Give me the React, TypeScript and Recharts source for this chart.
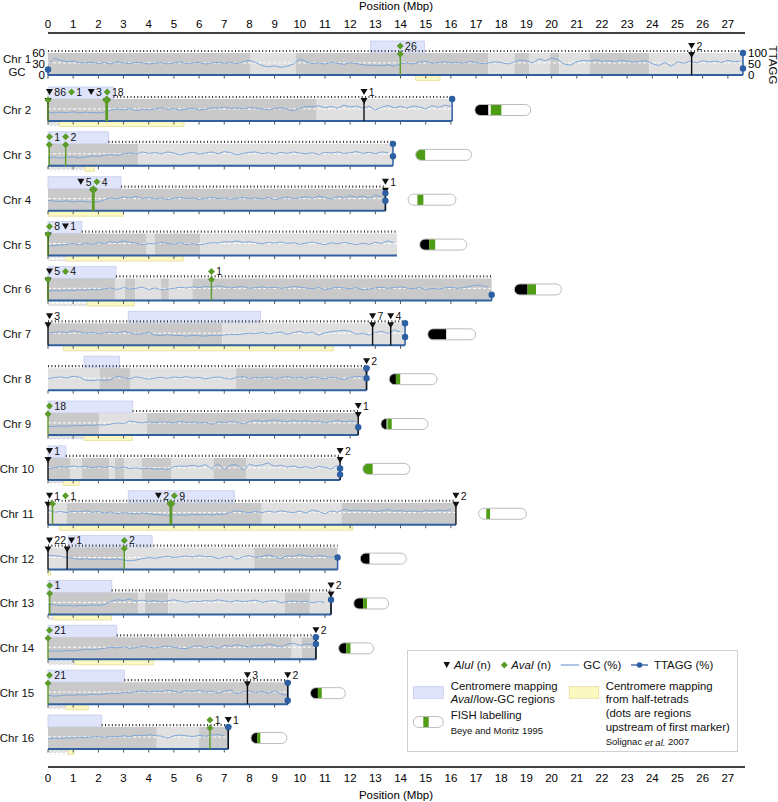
import React from 'react';
import { ComposedChart, Line, Scatter, XAxis, YAxis, ReferenceArea, ReferenceLine } from 'recharts';

const FONT = '"Liberation Sans", Arial, Helvetica, sans-serif';
const WIDTH = 778;
const HEIGHT = 802;
const X_MAX = 27.68;
const STEP = 0.25; // spacing of the GC samples (Mbp)

const chrNames = ['Chr 1', 'Chr 2', 'Chr 3', 'Chr 4', 'Chr 5', 'Chr 6', 'Chr 7', 'Chr 8',
  'Chr 9', 'Chr 10', 'Chr 11', 'Chr 12', 'Chr 13', 'Chr 14', 'Chr 15', 'Chr 16'];
const chrLengths = [27.6, 16.05, 13.7, 13.4, 13.86, 17.62, 14.18, 12.65, 12.32, 11.6, 16.2, 11.5, 11.24, 10.64, 9.52, 7.16];
const positionTicks = [0, 1, 2, 3, 4, 5, 6, 7, 8, 9, 10, 11, 12, 13, 14, 15, 16, 17, 18, 19, 20, 21, 22, 23, 24, 25, 26, 27];
const gcTicks = [0, 30, 60];
const ttaggTicks = [0, 50, 100];

// GC (%) every 0.25 Mbp
const gc1 = [28, 46, 40, 36, 38, 34, 33, 35, 31, 34, 30, 36, 33, 31, 35, 33, 30, 32, 34, 30, 33, 36, 31, 33, 34,
  30, 33, 35, 32, 34, 31, 36, 40, 34, 26, 22, 25, 21, 24, 30, 44, 36, 31, 33, 30, 34, 32, 29, 33,
  31, 28, 26, 27, 25, 28, 24, 30, 33, 30, 35, 37, 32, 34, 36, 33, 35, 32, 37, 34, 31, 33, 36, 34,
  30, 35, 41, 38, 33, 44, 39, 46, 42, 30, 27, 36, 40, 38, 41, 37, 39, 36, 40, 38, 35, 37, 39, 31,
  26, 34, 24, 36, 32, 38, 33, 39, 35, 38, 34, 40, 36, 38];
const gc2 = [24, 22, 24, 23, 25, 22, 24, 23, 22, 24, 30, 33, 30, 34, 28, 32, 30, 33, 36, 31, 34, 29, 33, 35, 30,
  32, 36, 35, 38, 34, 36, 33, 37, 35, 33, 30, 34, 36, 32, 28, 34, 40, 38, 42, 36, 40, 35, 43, 38,
  41, 35, 40, 30, 38, 42, 36, 40, 35, 41, 38, 33, 42, 37, 43, 40];
const gc3 = [22, 24, 21, 23, 25, 22, 24, 27, 26, 29, 31, 28, 33, 35, 32, 38, 34, 36, 33, 38, 35, 30, 34, 37, 32,
  35, 38, 33, 39, 36, 30, 34, 37, 38, 33, 36, 32, 37, 34, 38, 35, 33, 36, 31, 37, 35, 38, 34, 36,
  39, 34, 37, 33, 38, 36];
const gc4 = [28, 26, 25, 27, 24, 26, 25, 23, 24, 30, 35, 32, 38, 34, 39, 33, 36, 32, 35, 30, 34, 36, 33, 35, 31,
  34, 36, 33, 35, 31, 34, 36, 33, 35, 32, 36, 30, 34, 37, 33, 35, 38, 34, 40, 36, 32, 39, 35, 41,
  36, 40, 34, 42, 38];
const gc5 = [26, 27, 29, 31, 33, 30, 34, 31, 35, 33, 38, 35, 40, 36, 34, 30, 33, 32, 36, 33, 31, 35, 30, 33, 29,
  32, 35, 34, 38, 37, 40, 36, 38, 35, 32, 36, 34, 37, 33, 35, 31, 34, 37, 33, 30, 35, 32, 36, 33,
  30, 34, 31, 36, 33, 40, 35];
const gc6 = [26, 27, 26, 28, 27, 29, 28, 30, 29, 32, 34, 30, 35, 31, 33, 36, 30, 34, 29, 31, 33, 36, 34, 37, 35,
  38, 36, 40, 37, 34, 36, 38, 33, 35, 37, 34, 36, 33, 35, 38, 36, 34, 32, 35, 30, 33, 36, 34, 32,
  35, 29, 31, 34, 36, 33, 35, 37, 34, 32, 35, 30, 33, 31, 34, 36, 33, 35, 38, 42, 40, 36];
const gc7 = [33, 35, 37, 34, 40, 36, 33, 35, 32, 34, 36, 33, 38, 34, 30, 32, 35, 28, 27, 29, 26, 27, 25, 27, 26,
  25, 27, 26, 28, 30, 29, 31, 33, 32, 35, 31, 34, 36, 30, 35, 38, 33, 36, 28, 34, 37, 39, 41, 38,
  30, 33, 28, 35, 38, 32, 42, 36];
const gc8 = [32, 34, 36, 33, 38, 35, 27, 26, 28, 27, 29, 38, 34, 31, 36, 33, 30, 33, 35, 32, 36, 34, 37, 33, 35,
  31, 34, 36, 33, 30, 35, 37, 32, 35, 33, 36, 32, 34, 37, 33, 35, 32, 36, 34, 31, 35, 33, 29, 34,
  38, 36];
const gc9 = [24, 23, 25, 24, 26, 25, 27, 26, 28, 27, 30, 33, 31, 38, 35, 33, 36, 34, 36, 35, 33, 37, 34, 36, 33,
  35, 29, 36, 34, 37, 35, 30, 36, 40, 37, 39, 41, 38, 36, 40, 37, 39, 36, 38, 33, 37, 40, 36, 38, 36];
const gc10 = [30, 33, 36, 34, 38, 35, 37, 33, 36, 34, 37, 32, 35, 31, 33, 30, 32, 29, 31, 28, 36, 38, 37, 40, 36,
  42, 30, 44, 28, 40, 42, 26, 43, 38, 41, 46, 37, 40, 35, 38, 33, 36, 31, 37, 34, 30, 40];
const gc11 = [40, 34, 36, 33, 37, 35, 38, 34, 36, 32, 35, 30, 33, 31, 29, 32, 30, 28, 27, 25, 26, 27, 26, 28, 27,
  28, 27, 29, 28, 34, 38, 35, 33, 36, 33, 37, 34, 38, 35, 33, 37, 32, 40, 36, 30, 38, 34, 42, 38,
  40, 37, 39, 36, 38, 41, 37, 39, 36, 38, 35, 39, 37, 40, 38, 42];
const gc12 = [40, 38, 36, 33, 31, 28, 30, 27, 29, 28, 27, 29, 26, 24, 26, 30, 33, 31, 34, 36, 33, 35, 37, 34, 38,
  35, 36, 30, 34, 37, 28, 35, 38, 33, 36, 40, 35, 30, 38, 36, 41, 37, 34, 39, 36, 33, 38];
const gc13 = [28, 26, 24, 25, 23, 25, 24, 26, 25, 27, 36, 40, 38, 42, 36, 39, 35, 38, 34, 37, 40, 36, 33, 37, 35,
  38, 36, 40, 37, 34, 38, 35, 37, 39, 33, 36, 38, 32, 35, 37, 34, 36, 32, 35, 33];
const gc14 = [22, 23, 22, 24, 23, 25, 27, 26, 28, 30, 33, 31, 34, 30, 32, 35, 33, 31, 34, 36, 33, 30, 29, 35, 37,
  32, 36, 30, 38, 35, 40, 36, 33, 39, 36, 42, 38, 34, 41, 44, 38, 42, 40];
const gc15 = [24, 22, 23, 25, 24, 26, 25, 27, 26, 28, 30, 29, 32, 31, 34, 36, 33, 36, 34, 38, 35, 32, 37, 34, 38,
  33, 36, 30, 35, 38, 28, 34, 36, 32, 35, 30, 36, 28, 24];
const gc16 = [28, 30, 29, 31, 30, 32, 31, 33, 34, 32, 35, 33, 36, 34, 38, 36, 39, 37, 35, 30, 36, 38, 36, 34, 37,
  35, 38, 40, 36];
const gcValues = [gc1, gc2, gc3, gc4, gc5, gc6, gc7, gc8, gc9, gc10, gc11, gc12, gc13, gc14, gc15, gc16];

// Centromere mapping, AvaI / low-GC (Mbp)
const centromereRanges: [number, number][] = [[12.81, 14.95], [0, 2.6], [0, 2.4], [0, 2.9], [0, 1.34], [0, 2.7],
  [3.19, 8.44], [1.43, 2.84], [0, 3.36], [0, 0.71], [3.19, 7.4], [0.8, 4.14], [0, 2.53], [0, 2.73], [0, 3.03], [0, 2.13]];
// Centromere mapping from half-tetrads (Mbp)
const tetradRanges: ([number, number] | null)[] = [[14.6, 15.57], [0.45, 5.4], [1.47, 1.84], [0, 2.99], [0.71, 5.37],
  [1.56, 3.43], [0.61, 11.33], null, [1.44, 3.36], [0.61, 1.24], [0.45, 12.1], [0, 0.1], [0.21, 2.53], [1.07, 4.18],
  [0.71, 1.6], [0.8, 1.03]];
// regions upstream of first marker
const upstreamRanges: ([number, number] | null)[] = [null, [0, 0.45], [0, 1.47], null, [0, 0.71], [0, 1.56], null,
  null, [0, 1.44], [0, 0.61], null, null, [0, 0.21], [0, 1.07], [0, 0.71], [0, 0.8]];

// grey background regions: [from, to, dark?]
const bandSegments: [number, number, number][][] = [
  [[0, 8.05, 1], [8.05, 9.85, 0], [9.85, 17.49, 1], [17.49, 18.52, 0], [18.52, 19.12, 1], [19.12, 19.94, 0],
    [19.94, 20.31, 1], [20.31, 21.5, 0], [21.5, 23.88, 1], [23.88, 27.6, 0]],
  [[0, 10.67, 1], [10.67, 16.05, 0]],
  [[0, 3.59, 1], [3.59, 13.7, 0]],
  [[0, 13.4, 1]],
  [[0, 3.92, 1], [3.92, 4.25, 0], [4.25, 6.04, 1], [6.04, 13.86, 0]],
  [[0, 2.66, 1], [2.66, 3.06, 0], [3.06, 3.46, 1], [3.46, 4.49, 0], [4.49, 4.8, 1], [4.8, 5.73, 0], [5.73, 17.62, 1]],
  [[0, 6.92, 1], [6.92, 14.18, 0]],
  [[0, 2.04, 0], [2.04, 3.28, 1], [3.28, 7.47, 0], [7.47, 12.65, 1]],
  [[0, 2.04, 1], [2.04, 3.92, 0], [3.92, 12.32, 1]],
  [[0, 0.9, 1], [0.9, 1.34, 0], [1.34, 2.44, 1], [2.44, 2.66, 0], [2.66, 3.02, 1], [3.02, 3.72, 0], [3.72, 4.91, 1],
    [4.91, 6.57, 0], [6.57, 7.89, 1], [7.89, 11.6, 0]],
  [[0, 0.74, 0], [0.74, 8.49, 1], [8.49, 11.66, 0], [11.66, 16.2, 1]],
  [[0, 0.78, 0], [0.78, 3.02, 1], [3.02, 8.19, 0], [8.19, 11.5, 1]],
  [[0, 3.59, 1], [3.59, 3.85, 0], [3.85, 4.78, 1], [4.78, 9.41, 0], [9.41, 10.4, 1], [10.4, 11.24, 0]],
  [[0, 9.68, 1], [9.68, 10.07, 0], [10.07, 10.64, 1]],
  [[0, 9.52, 1]],
  [[0, 4.32, 1], [4.32, 6.0, 0], [6.0, 7.16, 1]],
];

// [position Mbp, count]
const aluI: [number, number][][] = [
  [[25.56, 2]], [[0, 86], [2.33, 3], [12.55, 1]], [], [[1.8, 5], [13.4, 1]], [[0.01, 1]], [[0, 5]],
  [[0, 3], [12.89, 7], [13.61, 4]], [[12.65, 2]], [[12.32, 1]], [[0, 1], [11.6, 2]], [[0, 1], [4.88, 2], [16.2, 2]],
  [[0, 22], [0.76, 1]], [[11.24, 2]], [[10.64, 2]], [[7.92, 3], [9.52, 2]], [[7.16, 1]],
];
const avaI: [number, number][][] = [
  [[13.99, 26]], [[0, 1], [2.33, 18]], [[0.05, 1], [0.7, 2]], [[1.8, 4]], [[0, 8]], [[0, 4], [6.49, 1]],
  [], [], [[0, 18]], [], [[0.18, 1], [4.88, 9]], [[3.03, 2]], [[0.07, 1]], [[0, 21]], [[0, 21]], [[6.43, 1]],
];
// TTAGG (%): [position Mbp, percent]
const ttagg: [number, number][][] = [
  [[0, 25], [27.6, 100], [27.6, 30]], [[16.05, 100]], [[13.7, 100], [13.7, 44]], [[13.4, 80], [13.4, 45]], [],
  [[17.62, 26]], [[14.18, 100], [14.18, 38]], [[12.65, 100], [12.65, 54]], [[12.32, 35]], [[11.6, 52], [11.6, 24]],
  [], [[11.5, 55]], [[11.24, 67]], [[10.64, 100], [10.64, 70]], [[9.52, 97], [9.52, 17]], [[7.16, 100]],
];
// FISH labelling (Beye and Moritz 1995): schematic length and labelled fractions
const fishSizes = [0, 2.22, 2.22, 1.9, 1.87, 1.87, 1.9, 1.9, 1.87, 1.87, 1.9, 1.83, 1.39, 1.39, 1.39, 1.43];
const fishBlack: ([number, number] | null)[] = [null, [0, 0.24], null, null, [0, 0.2], [0, 0.28], [0, 0.385],
  [0, 0.14], [0, 0.12], null, null, [0, 0.2], [0, 0.27], [0, 0.22], [0, 0.22], [0, 0.17]];
const fishGreen: ([number, number] | null)[] = [null, [0.285, 0.475], [0, 0.17], [0.195, 0.32], [0.2, 0.33],
  [0.28, 0.46], null, [0.14, 0.23], [0.14, 0.23], [0, 0.21], [0.16, 0.24], null, [0.27, 0.38], [0.22, 0.34],
  [0.21, 0.325], [0.17, 0.26]];

// layout
const MARGIN = { top: 0, right: 8, bottom: 0, left: 28 };
const GC_AXIS_W = 20;
const TTAGG_AXIS_W = 25;
const TOP_AXIS_H = 33;
const BOTTOM_AXIS_H = 35;
const PLOT_TOP = TOP_AXIS_H;
const PLOT_BOTTOM = HEIGHT - BOTTOM_AXIS_H;
const PLOT_LEFT = MARGIN.left + GC_AXIS_W;
const PLOT_RIGHT = WIDTH - MARGIN.right - TTAGG_AXIS_W;
const PX_PER_MBP = (PLOT_RIGHT - PLOT_LEFT) / X_MAX;
const BAND_H = 22;
const U = 60 / BAND_H; // GC units per pixel
const GC_MID = 33;
const FISH_GAP = 0.9;
const LABEL_Y = 60 + 7 * U;

const ALU_COLOR = '#111';
const AVA_COLOR = '#5b9b27';
const TTAGG_COLOR = '#2d5fa3';
const GC_COLOR = '#7ea7d8';
const BASE_COLOR = '#31609e';

const bandTop = (i: number) => (i === 0 ? 53 : 99 + (i - 1) * 44.86);
const yDomain = (i: number): [number, number] => {
  const b = bandTop(i) + BAND_H;
  const lo = -(PLOT_BOTTOM - b) * U;
  return [lo, lo + (PLOT_BOTTOM - PLOT_TOP) * U];
};

type Mark = { pos: number; count: number; kind: 'alu' | 'ava' };

const labelItems = (i: number) => {
  const marks: Mark[] = [
    ...aluI[i].map(([pos, count]) => ({ pos, count, kind: 'alu' as const })),
    ...avaI[i].map(([pos, count]) => ({ pos, count, kind: 'ava' as const })),
  ].sort((a, b) => a.pos - b.pos);
  const out: any[] = [];
  let prevRight = PLOT_LEFT - 2;
  let k = 0;
  while (k < marks.length) {
    const group = [marks[k]];
    while (k + group.length < marks.length && marks[k + group.length].pos === marks[k].pos) group.push(marks[k + group.length]);
    k += group.length;
    const widths = group.map((m) => 10 + 6 * String(m.count).length);
    const total = widths.reduce((s, w) => s + w, 0);
    const mpx = PLOT_LEFT + group[0].pos * PX_PER_MBP;
    let left = group.length === 1 ? mpx - 3.5 : mpx - total / 2;
    left = Math.max(left, prevRight);
    group.forEach((m, j) => {
      out.push({ x: Math.max(0, (left - PLOT_LEFT) / PX_PER_MBP), dx: Math.min(0, left - PLOT_LEFT), y: LABEL_Y, kind: m.kind, count: m.count });
      left += widths[j];
    });
    prevRight = left;
  }
  return out;
};

const LabelShape = (props: any) => {
  const { cy, payload } = props;
  const cx = props.cx + payload.dx;
  const glyph = payload.kind === 'alu'
    ? <polygon points={`${cx},${cy - 3} ${cx + 7},${cy - 3} ${cx + 3.5},${cy + 3}`} fill={ALU_COLOR} />
    : <polygon points={`${cx + 3.5},${cy - 3.5} ${cx + 7},${cy} ${cx + 3.5},${cy + 3.5} ${cx},${cy}`} fill={AVA_COLOR} />;
  return (
    <g>
      {glyph}
      <text x={cx + 8.3} y={cy + 3.8} fontSize={10.5} fill="#111" fontFamily={FONT}>{payload.count}</text>
    </g>
  );
};

const MarkShape = (props: any) => {
  const { cx, cy, payload } = props;
  if (payload.kind === 'alu') {
    return <polygon points={`${cx - 3.5},${cy - 1} ${cx + 3.5},${cy - 1} ${cx},${cy + 5}`} fill={ALU_COLOR} />;
  }
  const r = payload.big ? 4.5 : 3.5;
  return <polygon points={`${cx},${cy + 1 - r} ${cx + r},${cy + 1} ${cx},${cy + 1 + r} ${cx - r},${cy + 1}`} fill={AVA_COLOR} />;
};

const DotShape = (props: any) => <circle cx={props.cx} cy={props.cy} r={3.2} fill={TTAGG_COLOR} />;

const PillShape = (props: any) => {
  const { cx, cy, payload } = props;
  const w = payload.size * PX_PER_MBP;
  const h = 11;
  const x = cx;
  const y = cy - h / 2;
  const id = `pill-clip-${payload.chr}`;
  return (
    <g>
      <defs>
        <clipPath id={id}><rect x={x} y={y} width={w} height={h} rx={h / 2} ry={h / 2} /></clipPath>
      </defs>
      <rect x={x} y={y} width={w} height={h} rx={h / 2} ry={h / 2} fill="#fff" />
      <g clipPath={`url(#${id})`}>
        {payload.black && <rect x={x + w * payload.black[0]} y={y} width={w * (payload.black[1] - payload.black[0])} height={h} fill="#000" />}
        {payload.green && <rect x={x + w * payload.green[0]} y={y} width={w * (payload.green[1] - payload.green[0])} height={h} fill="#4f9c16" />}
      </g>
      <rect x={x} y={y} width={w} height={h} rx={h / 2} ry={h / 2} fill="none" stroke="#bdbdbd" strokeWidth={1} />
    </g>
  );
};

const chrElements = (i: number) => {
  const len = chrLengths[i];
  const ax = { xAxisId: 'bottom', yAxisId: `y${i}` };
  const els: React.ReactNode[] = [];
  const cen = centromereRanges[i];

  els.push(<ReferenceArea key={`cen${i}`} {...ax} x1={cen[0]} x2={cen[1]} y1={60} y2={60 + 12 * U}
    fill="#dfe4fa" fillOpacity={1} stroke="#c3cbee" strokeWidth={0.8} />);
  bandSegments[i].forEach(([a, b, dark], k) => {
    els.push(<ReferenceArea key={`band${i}-${k}`} {...ax} x1={a} x2={b} y1={0} y2={60}
      fill={dark ? '#c9c9c9' : '#e0e0e0'} fillOpacity={1} stroke="none" />);
  });
  const snpStart = cen[0] === 0 ? cen[1] : 0;
  els.push(<ReferenceLine key={`snp${i}`} {...ax} segment={[{ x: snpStart, y: 60 + 2 * U }, { x: len, y: 60 + 2 * U }]}
    stroke="#333" strokeWidth={2.2} strokeDasharray="1 2.4" />);
  els.push(<ReferenceLine key={`mid${i}`} {...ax} segment={[{ x: 0, y: GC_MID }, { x: len, y: GC_MID }]}
    stroke="#fff" strokeWidth={1} strokeDasharray="3 2" />);

  // chr 1 GC line also carries the top position axis
  const gcData = gcValues[i].map((v, j) => ({ x: j * STEP, y: v }));
  els.push(<Line key={`gc${i}`} xAxisId={i === 0 ? 'top' : 'bottom'} yAxisId={`y${i}`} data={gcData} dataKey="y"
    type="linear" stroke={GC_COLOR} strokeWidth={1} dot={false} activeDot={false} isAnimationActive={false} />);

  const up = upstreamRanges[i];
  if (up) {
    els.push(<ReferenceArea key={`up${i}`} {...ax} x1={up[0]} x2={up[1]} y1={0} y2={-5.5 * U}
      fill="url(#upDots)" fillOpacity={1} stroke="none" />);
  }
  const tet = tetradRanges[i];
  if (tet) {
    els.push(<ReferenceArea key={`tet${i}`} {...ax} x1={tet[0]} x2={tet[1]} y1={0} y2={-5.5 * U}
      fill="#fbf8c2" fillOpacity={1} stroke="#e4dd9a" strokeWidth={0.8} />);
  }
  positionTicks.filter((t) => t <= len).forEach((t) => {
    els.push(<ReferenceLine key={`tk${i}-${t}`} {...ax} segment={[{ x: t, y: 0 }, { x: t, y: -3.5 * U }]}
      stroke="#555" strokeWidth={1} />);
  });
  els.push(<ReferenceLine key={`base${i}`} {...ax} segment={[{ x: 0, y: 0 }, { x: len, y: 0 }]}
    stroke={BASE_COLOR} strokeWidth={2} />);

  // TTAGG end lines
  const ends = Array.from(new Set(ttagg[i].map(([p]) => p)));
  ends.forEach((p) => {
    const top = Math.max(...ttagg[i].filter(([q]) => q === p).map(([, v]) => v)) * 0.6;
    els.push(<ReferenceLine key={`tl${i}-${p}`} {...ax} segment={[{ x: p, y: 0 }, { x: p, y: top }]}
      stroke={TTAGG_COLOR} strokeWidth={1.5} />);
  });

  // marker lines
  const aluPos = aluI[i].map(([p]) => p);
  aluI[i].forEach(([p], k) => {
    els.push(<ReferenceLine key={`al${i}-${k}`} {...ax} segment={[{ x: p, y: 0 }, { x: p, y: 60 }]}
      stroke={ALU_COLOR} strokeWidth={1.4} />);
  });
  avaI[i].forEach(([p], k) => {
    const big = p > 0 && aluPos.includes(p);
    els.push(<ReferenceLine key={`av${i}-${k}`} {...ax} segment={[{ x: p, y: 0 }, { x: p, y: 60 }]}
      stroke={AVA_COLOR} strokeWidth={big ? 2.8 : 1.4} />);
  });
  const marks = [
    ...aluI[i].map(([p, c]) => ({ x: p, y: 60, kind: 'alu', count: c, big: false })),
    ...avaI[i].map(([p, c]) => ({ x: p, y: 60, kind: 'ava', count: c, big: p > 0 && aluPos.includes(p) })),
  ];
  if (marks.length) {
    els.push(<Scatter key={`mk${i}`} {...ax} data={marks} shape={MarkShape} isAnimationActive={false} />);
    els.push(<Scatter key={`lb${i}`} {...ax} data={labelItems(i)} shape={LabelShape} isAnimationActive={false} />);
  }
  if (ttagg[i].length) {
    // chr 1 TTAGG dots are read against the right-hand TTAGG axis
    const dots = ttagg[i].map(([p, v]) => ({ x: p, y: i === 0 ? v : v * 0.6 }));
    els.push(<Scatter key={`td${i}`} xAxisId="bottom" yAxisId={i === 0 ? 'ttagg' : `y${i}`} data={dots}
      shape={DotShape} isAnimationActive={false} />);
  }
  if (fishSizes[i] > 0) {
    const pill = [{ x: len + FISH_GAP, y: 30, size: fishSizes[i], black: fishBlack[i], green: fishGreen[i], chr: i }];
    els.push(<Scatter key={`fish${i}`} {...ax} data={pill} shape={PillShape} isAnimationActive={false} />);
  }
  return els;
};

const Legend = () => {
  const t = { fontSize: 11.4, fill: '#111', fontFamily: FONT, dominantBaseline: 'central' as const };
  const s = { fontSize: 9.5, fill: '#111', fontFamily: FONT, dominantBaseline: 'central' as const };
  return (
    <svg width={331} height={102} style={{ position: 'absolute', left: 407, top: 650 }}>
      <rect x={0.5} y={0.5} width={330} height={101} fill="#fff" stroke="#d2d2d2" />
      <polygon points="36.5,12 43,12 39.7,18" fill={ALU_COLOR} />
      <text x={47} y={15} {...t}><tspan fontStyle="italic">AluI</tspan> (n)</text>
      <polygon points="97.3,11.5 100.8,15 97.3,18.5 93.8,15" fill={AVA_COLOR} />
      <text x={104.3} y={15} {...t}><tspan fontStyle="italic">AvaI</tspan> (n)</text>
      <line x1={153.7} y1={15} x2={172} y2={15} stroke={GC_COLOR} strokeWidth={1.3} />
      <text x={176.3} y={15} {...t}>GC (%)</text>
      <line x1={224} y1={15} x2={241} y2={15} stroke={TTAGG_COLOR} strokeWidth={1.3} />
      <circle cx={232.5} cy={15} r={2.8} fill={TTAGG_COLOR} />
      <text x={247} y={15} {...t}>TTAGG (%)</text>

      <rect x={6.3} y={36.7} width={30} height={11.6} fill="#dfe4fa" stroke="#c3cbee" strokeWidth={0.8} />
      <text x={43.7} y={35.7} {...t}>Centromere mapping</text>
      <text x={43.7} y={49.3} {...t}><tspan fontStyle="italic">AvaI</tspan>/low-GC regions</text>

      <rect x={162.3} y={36.7} width={29.4} height={11.6} fill="#fbf8c2" stroke="#e4dd9a" strokeWidth={0.8} />
      <text x={198.7} y={35.7} {...t}>Centromere mapping</text>
      <text x={198.7} y={49.3} {...t}>from half-tetrads</text>
      <text x={198.7} y={63.3} {...t}>(dots are regions</text>
      <text x={198.7} y={77.3} {...t}>upstream of first marker)</text>
      <text x={198.7} y={91.5} {...s}>Solignac <tspan fontStyle="italic">et al.</tspan> 2007</text>

      <rect x={6.3} y={66.5} width={30} height={11} rx={5.5} fill="#fff" stroke="#bdbdbd" />
      <rect x={16.3} y={67} width={5.4} height={10} fill="#4f9c16" />
      <text x={43.7} y={64.5} {...t}>FISH labelling</text>
      <text x={43.7} y={80.5} {...s}>Beye and Moritz 1995</text>
    </svg>
  );
};

const App = () => {
  const children: React.ReactNode[] = [];
  chrNames.forEach((_, i) => children.push(...chrElements(i)));
  const tickStyle = { fontSize: 11.5, fill: '#000', fontFamily: FONT };
  return (
    <div style={{ position: 'absolute', left: 0, top: 0, width: WIDTH, height: HEIGHT, background: '#fff', fontFamily: FONT }}>
      <svg width={0} height={0} style={{ position: 'absolute' }}>
        <defs>
          <pattern id="upDots" width={4.4} height={5.5} patternUnits="userSpaceOnUse">
            <rect x={0} y={0} width={4.4} height={5.5} fill="#fff" />
            <circle cx={2.2} cy={2.9} r={1.5} fill="#fff" stroke="#a9a9a9" strokeWidth={0.7} />
          </pattern>
        </defs>
      </svg>
      <ComposedChart width={WIDTH} height={HEIGHT} margin={MARGIN}>
        <XAxis xAxisId="top" orientation="top" type="number" dataKey="x" domain={[0, X_MAX]} ticks={positionTicks}
          height={TOP_AXIS_H} tickLine={false} tickSize={0} tickMargin={5} tick={tickStyle} interval={0}
          axisLine={{ stroke: '#000', strokeWidth: 1.6 }} />
        <XAxis xAxisId="bottom" orientation="bottom" type="number" dataKey="x" domain={[0, X_MAX]} ticks={positionTicks}
          height={BOTTOM_AXIS_H} tickLine={false} tickSize={0} tickMargin={7} tick={tickStyle} interval={0}
          axisLine={{ stroke: '#000', strokeWidth: 1.6 }} />
        {chrNames.map((_, i) => (
          <YAxis key={`ya${i}`} yAxisId={`y${i}`} type="number" dataKey="y" domain={yDomain(i)} hide={i !== 0}
            width={GC_AXIS_W} ticks={gcTicks} tickLine={false} axisLine={false} tickSize={0} tickMargin={3}
            tick={tickStyle} interval={0} />
        ))}
        <YAxis yAxisId="ttagg" orientation="right" type="number" dataKey="y" domain={yDomain(0).map((v) => (v * 100) / 60)}
          width={TTAGG_AXIS_W} ticks={ttaggTicks} tickLine={false} axisLine={false} tickSize={0} tickMargin={3}
          tick={tickStyle} interval={0} />
        {children}
      </ComposedChart>
      <svg width={WIDTH} height={HEIGHT} style={{ position: 'absolute', left: 0, top: 0, pointerEvents: 'none' }}>
        <text x={396} y={6} textAnchor="middle" dominantBaseline="central" fontSize={11.5} fill="#000" fontFamily={FONT}>Position (Mbp)</text>
        <text x={396} y={795} textAnchor="middle" dominantBaseline="central" fontSize={11.5} fill="#000" fontFamily={FONT}>Position (Mbp)</text>
        {chrNames.map((name, i) => (
          <text key={name} x={17} y={i === 0 ? 58.5 : bandTop(i) + 11} textAnchor="middle" dominantBaseline="central"
            fontSize={11.5} fill="#111" fontFamily={FONT}>{name}</text>
        ))}
        <text x={17} y={72} textAnchor="middle" dominantBaseline="central" fontSize={11.5} fill="#111" fontFamily={FONT}>GC</text>
        <text x={773} y={65} textAnchor="middle" dominantBaseline="central" fontSize={11.5} fill="#111" fontFamily={FONT}
          transform="rotate(90 773 65)">TTAGG</text>
      </svg>
      <Legend />
    </div>
  );
};

export default App;
